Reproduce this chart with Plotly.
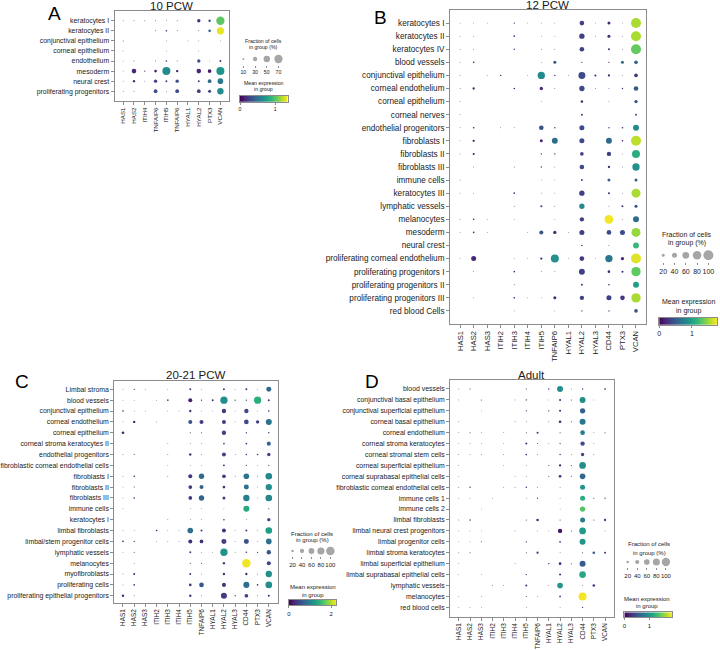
import plotly.graph_objects as go
import numpy as np

W, H = 720, 650
FONT = "Liberation Sans, Arial, sans-serif"

# ---------------- Panel A: 10 PCW ----------------
genes_A = ["HAS1", "HAS2", "ITIH4", "TNFAIP6", "ITIH5", "TNFAIP6", "HYAL1", "HYAL2", "PTX3", "VCAN"]
rows_A = ["keratocytes I", "keratocytes II", "conjunctival epithelium", "corneal epithelium",
          "endothelium", "mesoderm", "neural crest", "proliferating progenitors"]
frac_A = [
    [2, 4, 1, 4, 1, 4, 0, 21, 13, 70],
    [0, 0, 0, 4, 8, 4, 0, 4, 15, 59],
    [4, 0, 0, 0, 3, 0, 3, 3, 0, 3],
    [2, 0, 0, 0, 2, 0, 0, 3, 0, 0],
    [2, 4, 0, 4, 8, 4, 0, 21, 3, 10],
    [2, 32, 6, 15, 67, 13, 0, 32, 24, 67],
    [3, 13, 2, 21, 10, 21, 0, 10, 24, 42],
    [2, 4, 0, 24, 3, 24, 0, 24, 18, 49],
]
expr_A = [
    [.05, .1, .05, .1, .05, .1, 0, .2, .3, 1.0],
    [0, 0, 0, .1, .2, .1, 0, .1, .45, 1.3],
    [.05, 0, 0, 0, .05, 0, .05, .05, 0, .1],
    [.05, 0, 0, 0, .05, 0, 0, .05, 0, 0],
    [.05, .05, 0, .05, .2, .05, 0, .35, .1, .2],
    [.05, .15, .1, .1, .65, .1, 0, .15, .1, .7],
    [.05, .15, .05, .25, .2, .3, 0, .2, .45, .55],
    [.05, .1, 0, .3, .1, .3, 0, .25, .25, .65],
]
size_ticks_A = [10, 30, 50, 70]

# ---------------- Panel B: 12 PCW ----------------
genes_14 = ["HAS1", "HAS2", "HAS3", "ITIH2", "ITIH3", "ITIH4", "ITIH5", "TNFAIP6",
            "HYAL1", "HYAL2", "HYAL3", "CD44", "PTX3", "VCAN"]
rows_B = ["keratocytes I", "keratocytes II", "keratocytes IV", "blood vessels",
          "conjunctival epithelium", "corneal endothelium", "corneal epithelium", "corneal nerves",
          "endothelial progenitors", "fibroblasts I", "fibroblasts II", "fibroblasts III",
          "immune cells", "keratocytes III", "lymphatic vessels", "melanocytes", "mesoderm",
          "neural crest", "proliferating corneal endothelium", "proliferating progenitors I",
          "proliferating progenitors II", "proliferating progenitors III", "red blood Cells"]
frac_B = [
    [2, 2, 1, 0, 7, 1, 2, 2, 0, 36, 1, 20, 2, 100],
    [2, 2, 0, 0, 9, 0, 2, 2, 0, 43, 1, 20, 2, 100],
    [2, 2, 0, 0, 7, 0, 2, 2, 0, 36, 0, 12, 2, 100],
    [2, 9, 0, 0, 0, 0, 4, 20, 0, 7, 0, 7, 20, 26],
    [4, 0, 1, 7, 0, 2, 66, 7, 1, 62, 12, 14, 2, 26],
    [3, 14, 0, 0, 9, 0, 23, 2, 0, 43, 3, 4, 7, 36],
    [4, 0, 0, 0, 0, 0, 4, 0, 0, 17, 0, 4, 0, 23],
    [2, 0, 0, 0, 0, 0, 0, 0, 0, 12, 0, 0, 0, 12],
    [3, 9, 0, 2, 3, 0, 36, 7, 0, 40, 0, 7, 9, 50],
    [2, 14, 0, 0, 0, 0, 20, 50, 0, 40, 0, 50, 9, 100],
    [2, 12, 0, 0, 0, 0, 7, 7, 0, 26, 0, 33, 3, 74],
    [0, 2, 0, 0, 4, 0, 7, 2, 0, 36, 0, 14, 3, 66],
    [4, 0, 0, 0, 0, 0, 2, 2, 0, 12, 0, 20, 0, 20],
    [2, 2, 0, 0, 9, 0, 2, 2, 0, 43, 0, 12, 2, 87],
    [0, 0, 0, 0, 2, 0, 12, 2, 0, 43, 0, 2, 12, 20],
    [2, 9, 2, 0, 2, 0, 0, 2, 0, 33, 0, 83, 2, 50],
    [2, 9, 2, 0, 0, 2, 30, 23, 2, 40, 0, 36, 40, 87],
    [0, 0, 0, 0, 0, 0, 0, 0, 0, 9, 0, 4, 0, 50],
    [2, 40, 0, 0, 2, 2, 14, 74, 2, 36, 2, 66, 23, 100],
    [0, 4, 0, 0, 9, 0, 4, 4, 0, 50, 0, 17, 12, 91],
    [0, 0, 0, 0, 4, 0, 0, 0, 0, 12, 0, 9, 0, 50],
    [0, 2, 0, 0, 9, 2, 2, 20, 0, 33, 0, 40, 36, 91],
    [0, 0, 0, 0, 2, 0, 0, 2, 0, 7, 0, 7, 0, 26],
]
expr_B = [
    [.05, .05, .05, 0, .15, .05, .05, .05, 0, .35, .05, .2, .05, 1.55],
    [.05, .05, 0, 0, .15, 0, .05, .05, 0, .35, .05, .2, .05, 1.55],
    [.05, .05, 0, 0, .15, 0, .05, .05, 0, .35, 0, .2, .05, 1.35],
    [.05, .15, 0, 0, 0, 0, .1, .45, 0, .3, 0, .2, .6, .55],
    [.05, 0, .05, .15, 0, .05, .85, .1, .05, .4, .2, .2, .05, .25],
    [.05, .15, 0, 0, .15, 0, .2, .05, 0, .4, .1, .15, .15, .5],
    [.05, 0, 0, 0, 0, 0, .1, 0, 0, .35, 0, .15, 0, .45],
    [.05, 0, 0, 0, 0, 0, 0, 0, 0, .35, 0, 0, 0, .4],
    [.05, .15, 0, .05, .1, 0, .45, .1, 0, .4, 0, .2, .2, .85],
    [.05, .15, 0, 0, 0, 0, .2, .65, 0, .4, 0, .6, .2, 1.6],
    [.05, .15, 0, 0, 0, 0, .1, .1, 0, .35, 0, .35, .1, 1.1],
    [0, .1, 0, 0, .1, 0, .1, .1, 0, .4, 0, .2, .1, .9],
    [.05, 0, 0, 0, 0, 0, .05, .05, 0, .3, 0, .55, 0, .5],
    [.05, .05, 0, 0, .15, 0, .05, .05, 0, .35, 0, .2, .05, 1.55],
    [0, 0, 0, 0, .05, 0, .25, .05, 0, .85, 0, .1, .3, .4],
    [.05, .15, .05, 0, .05, 0, 0, .05, 0, .35, 0, 1.75, .05, .62],
    [.05, .15, .05, 0, 0, .05, .45, .2, .05, .35, 0, .4, .4, 1.5],
    [0, 0, 0, 0, 0, 0, 0, 0, 0, .3, 0, .1, 0, 1.2],
    [.05, .2, 0, 0, .05, .05, .2, .9, .05, .3, .05, .7, .2, 1.7],
    [0, .1, 0, 0, .2, 0, .1, .1, 0, .35, 0, .2, .2, 1.33],
    [0, 0, 0, 0, .05, 0, 0, 0, 0, .3, 0, .2, 0, 1.0],
    [0, .1, 0, 0, .15, .05, .05, .2, 0, .35, 0, .35, .3, 1.55],
    [0, 0, 0, 0, .05, 0, 0, .05, 0, .3, 0, .2, 0, .45],
]
size_ticks_B = [20, 40, 60, 80, 100]

# ---------------- Panel C: 20-21 PCW ----------------
rows_C = ["Limbal stroma", "blood vessels", "conjunctival epithelium", "corneal endothelium",
          "corneal epithelium", "corneal stroma keratocytes II", "endothelial progenitors",
          "fibroblastic corneal endothelial cells", "fibroblasts I", "fibroblasts II",
          "fibroblasts III", "immune cells", "keratocytes I", "limbal fibroblasts",
          "limbal/stem progenitor cells", "lymphatic vessels", "melanocytes", "myofibroblasts",
          "proliferating cells", "proliferating epithelial progenitors"]
frac_C = [
    [1, 8, 1, 0, 2, 0, 14, 2, 0, 14, 2, 14, 2, 49],
    [2, 2, 0, 2, 11, 0, 37, 8, 14, 82, 8, 8, 82, 14],
    [11, 2, 2, 0, 2, 2, 18, 2, 2, 41, 2, 41, 2, 11],
    [2, 18, 0, 2, 0, 0, 37, 37, 0, 37, 4, 45, 29, 63],
    [21, 0, 0, 0, 0, 0, 6, 6, 0, 41, 0, 8, 0, 8],
    [0, 0, 0, 0, 2, 0, 4, 4, 0, 11, 0, 11, 0, 37],
    [2, 6, 0, 0, 2, 0, 18, 2, 0, 37, 2, 11, 11, 29],
    [0, 0, 0, 0, 2, 0, 4, 2, 0, 14, 0, 8, 4, 6],
    [2, 11, 0, 0, 2, 0, 37, 54, 0, 33, 2, 58, 4, 72],
    [2, 6, 0, 0, 0, 0, 33, 37, 0, 21, 0, 49, 4, 68],
    [2, 11, 0, 0, 0, 0, 33, 54, 0, 25, 0, 68, 4, 72],
    [4, 0, 0, 0, 0, 0, 2, 2, 0, 4, 0, 63, 0, 6],
    [0, 0, 0, 0, 2, 0, 2, 2, 0, 11, 0, 2, 0, 29],
    [2, 4, 0, 11, 2, 2, 58, 14, 0, 37, 2, 14, 2, 72],
    [11, 8, 0, 2, 2, 2, 37, 33, 0, 49, 2, 49, 2, 58],
    [2, 6, 0, 0, 0, 0, 14, 2, 4, 82, 2, 11, 8, 41],
    [0, 2, 0, 0, 0, 0, 6, 6, 0, 18, 0, 100, 0, 37],
    [2, 14, 0, 0, 0, 0, 14, 4, 0, 18, 0, 18, 2, 68],
    [2, 11, 0, 0, 0, 0, 21, 45, 0, 37, 0, 63, 11, 72],
    [18, 2, 0, 0, 0, 0, 18, 4, 0, 63, 8, 33, 2, 14],
]
expr_C = [
    [.05, .2, .05, 0, .05, 0, .3, .1, 0, .3, .1, .3, .1, .75],
    [.05, .05, 0, .05, .2, 0, .2, .1, .2, 1.1, .2, .2, 1.4, .3],
    [.2, .05, .05, 0, .05, .05, .3, .05, .05, .4, .05, .5, .05, .3],
    [.05, .2, 0, .05, 0, 0, .6, .4, 0, .4, .1, .5, .4, .85],
    [.2, 0, 0, 0, 0, 0, .1, .1, 0, .45, 0, .3, 0, .1],
    [0, 0, 0, 0, .1, 0, .1, .1, 0, .3, 0, .3, 0, .7],
    [.05, .15, 0, 0, .05, 0, .3, .05, 0, .45, .05, .3, .3, .4],
    [0, 0, 0, 0, .1, 0, .1, .1, 0, .3, 0, .2, .3, .1],
    [.05, .2, 0, 0, .05, 0, .35, .75, 0, .4, .05, .85, .1, 1.05],
    [.05, .15, 0, 0, 0, 0, .35, .7, 0, .3, 0, .8, .1, 1.1],
    [.05, .2, 0, 0, 0, 0, .35, .7, 0, .35, 0, .95, .1, 1.05],
    [.05, 0, 0, 0, 0, 0, .05, .05, 0, .1, 0, 1.35, 0, .1],
    [0, 0, 0, 0, .05, 0, .05, .05, 0, .3, 0, .1, 0, .5],
    [.05, .1, 0, .2, .05, .05, .8, .3, 0, .35, .05, .3, .05, 1.25],
    [.2, .2, 0, .05, .05, .05, .3, .3, 0, .4, .05, .55, .05, .8],
    [.05, .15, 0, 0, 0, 0, .3, .05, .1, 1.15, .05, .3, .05, .6],
    [0, .05, 0, 0, 0, 0, .1, .1, 0, .3, 0, 2.2, 0, .45],
    [.05, .2, 0, 0, 0, 0, .3, .1, 0, .3, 0, .3, 0, 1.1],
    [.05, .2, 0, 0, 0, 0, .35, .6, 0, .35, 0, .8, .2, 1.1],
    [.2, .05, 0, 0, 0, 0, .3, .1, 0, .4, .2, .4, .05, .2],
]
size_ticks_C = [20, 40, 60, 80, 100]

# ---------------- Panel D: Adult ----------------
rows_D = ["blood vessels", "conjunctival basal epithelium", "conjunctival superficial epithelium",
          "corneal basal epithelium", "corneal endothelium", "corneal stroma keratocytes",
          "corneal stromal stem cells", "corneal superficial epithelium",
          "corneal suprabasal epithelial cells", "fibroblastic corneal endothelial cells",
          "immune cells 1", "immune cells 2", "limbal fibroblasts",
          "limbal neural crest progenitors", "limbal progenitor cells", "limbal stroma keratocytes",
          "limbal superficial epithelium", "limbal suprabasal epithelial cells",
          "lymphatic vessels", "melanocytes", "red blood cells"]
frac_D = [
    [2, 6, 0, 0, 0, 0, 6, 0, 9, 65, 2, 9, 0, 12],
    [2, 0, 6, 0, 0, 2, 9, 0, 3, 15, 6, 65, 2, 0],
    [0, 0, 3, 0, 0, 0, 9, 0, 9, 15, 0, 55, 0, 0],
    [2, 0, 0, 0, 0, 2, 3, 0, 3, 22, 6, 65, 0, 0],
    [2, 6, 2, 0, 2, 0, 6, 15, 0, 6, 0, 46, 3, 6],
    [2, 2, 2, 0, 2, 0, 15, 6, 3, 9, 0, 42, 3, 0],
    [2, 2, 2, 0, 2, 0, 12, 3, 0, 9, 2, 30, 3, 0],
    [3, 0, 0, 0, 2, 0, 2, 0, 6, 18, 6, 75, 0, 0],
    [3, 0, 0, 0, 0, 2, 2, 0, 6, 22, 6, 60, 0, 0],
    [2, 9, 0, 0, 2, 2, 9, 2, 0, 3, 0, 51, 0, 0],
    [2, 2, 0, 2, 0, 0, 2, 9, 0, 3, 0, 51, 6, 9],
    [0, 0, 2, 0, 0, 0, 0, 0, 0, 2, 0, 55, 0, 0],
    [2, 9, 0, 0, 0, 0, 6, 22, 0, 6, 0, 51, 6, 18],
    [3, 3, 3, 0, 0, 2, 0, 2, 2, 42, 6, 75, 0, 2],
    [2, 2, 6, 0, 0, 0, 9, 0, 0, 12, 0, 65, 0, 0],
    [2, 6, 0, 0, 0, 0, 6, 18, 0, 2, 0, 6, 22, 15],
    [2, 0, 0, 0, 0, 2, 0, 0, 9, 22, 6, 65, 0, 0],
    [2, 0, 2, 0, 0, 0, 9, 0, 0, 15, 0, 75, 0, 0],
    [0, 0, 0, 2, 3, 0, 15, 0, 2, 60, 0, 3, 22, 0],
    [2, 0, 2, 0, 0, 0, 6, 2, 0, 12, 0, 95, 0, 0],
    [2, 2, 2, 0, 0, 0, 2, 0, 0, 3, 0, 9, 0, 0],
]
expr_D = [
    [.05, .1, 0, 0, 0, 0, .1, 0, .2, .95, .05, .2, 0, .2],
    [.05, 0, .1, 0, 0, .05, .2, 0, .1, .2, .1, .95, .05, 0],
    [0, 0, .1, 0, 0, 0, .15, 0, .15, .2, 0, .6, 0, 0],
    [.05, 0, 0, 0, 0, .05, .05, 0, .05, .25, .1, .75, 0, 0],
    [.05, .1, .05, 0, .05, 0, .1, .3, 0, .1, 0, .8, .1, .1],
    [.05, .05, .05, 0, .05, 0, .2, .1, .1, .2, 0, .45, .1, 0],
    [.05, .05, .05, 0, .05, 0, .2, .05, 0, .2, .1, .4, .1, 0],
    [.05, 0, 0, 0, .05, 0, .05, 0, .1, .2, .1, .95, 0, 0],
    [.05, 0, 0, 0, 0, .05, .05, 0, .1, .25, .1, .65, 0, 0],
    [.05, .15, 0, 0, .05, .05, .1, .05, 0, .05, 0, 1.0, 0, 0],
    [.05, .05, 0, .05, 0, 0, .05, .25, 0, .05, 0, 1.2, .1, .25],
    [0, 0, .05, 0, 0, 0, 0, 0, 0, .05, 0, 1.4, 0, 0],
    [.05, .1, 0, 0, 0, 0, .1, .35, 0, .1, 0, .8, .1, .3],
    [.05, .1, .1, 0, 0, .05, 0, .05, .05, .1, .1, 1.05, 0, .05],
    [.05, .05, .1, 0, 0, 0, .15, 0, 0, .2, 0, 1.0, 0, 0],
    [.05, .15, 0, 0, 0, 0, .1, .45, 0, .05, 0, .1, .55, .3],
    [.05, 0, 0, 0, 0, .05, 0, 0, .15, .2, .1, .55, 0, 0],
    [.05, 0, .05, 0, 0, 0, .15, 0, 0, .2, 0, 1.15, 0, 0],
    [0, 0, 0, .05, .05, 0, .25, 0, .05, 1.0, 0, .1, .35, 0],
    [.05, 0, .05, 0, 0, 0, .15, .05, 0, .2, 0, 1.9, 0, 0],
    [.05, .05, .05, 0, 0, 0, .05, 0, 0, .1, 0, .2, 0, 0],
]
size_ticks_D = [20, 40, 60, 80, 100]

# colour-scale maxima and tick labels (from the reference colorbars)
cmax_vals = {"A": 1.35, "B": 1.78, "C": 2.24, "D": 1.93}
cbar_ticks = {"A": [0, 1], "B": [0, 1], "C": [0, 2], "D": [0, 1]}

# ---------------- layout geometry (pixels) ----------------
panels = {
    "A": dict(genes=genes_A, rows=rows_A, frac=frac_A, expr=expr_A, sticks=size_ticks_A,
              box=(113, 11, 228, 101), padx=0.8, pady=(0.97, 0.97), font=6.9, xfont=6.2,
              dref=70, dpx=8.3, title="10 PCW", tpos=(170, 6), letter=(53, 14), lfont=5.2,
              sleg=(236.5, 283.5, 53, 65), cbar=(239, 286.7, 96, 101.7),
              t1=(263, 41.3, 47), t2=(263, 82.7, 89)),
    "B": dict(genes=genes_14, rows=rows_B, frac=frac_B, expr=expr_B, sticks=size_ticks_B,
              box=(450, 10, 646.7, 324), padx=0.74, pady=(1.0, 1.0), font=8.2, xfont=7.6,
              dref=100, dpx=10, title="12 PCW", tpos=(548, 5), letter=(380, 18), lfont=7,
              sleg=(658.3, 715, 248.3, 262.3), cbar=(660, 718.3, 317.7, 325),
              t1=(688, 234, 242.7), t2=(689, 302.3, 311)),
    "C": dict(genes=genes_14, rows=rows_C, frac=frac_C, expr=expr_C, sticks=size_ticks_C,
              box=(112.7, 380.5, 276.7, 602.7), padx=0.78, pady=(0.81, 0.64), font=6.9, xfont=6.4,
              dref=100, dpx=8.5, title="20-21 PCW", tpos=(195, 375), letter=(20, 381), lfont=6,
              sleg=(287, 334.5, 545.7, 556.3), cbar=(288, 335.7, 600, 605.3),
              t1=(311.7, 533.5, 540), t2=(312, 586.7, 595)),
    "D": dict(genes=genes_14, rows=rows_D, frac=frac_D, expr=expr_D, sticks=size_ticks_D,
              box=(450, 379.6, 614.3, 616.7), padx=0.77, pady=(0.86, 0.86), font=6.9, xfont=6.4,
              dref=100, dpx=8.3, title="Adult", tpos=(532, 374.5), letter=(372, 381), lfont=6,
              sleg=(623.5, 671.5, 556.7, 567.3), cbar=(625, 673.3, 612.3, 617.3),
              t1=(650, 544.3, 552.5), t2=(648, 599, 606)),
}

GRAY_LINE = "#8c8c8c"
TXT = "#1a1a1a"

def dx(l, r):
    return [l / W, r / W]

def dy(t, b):
    return [1 - b / H, 1 - t / H]

fig = go.Figure()
layout = dict(width=W, height=H, margin=dict(l=0, r=0, t=0, b=0, pad=0),
              paper_bgcolor="white", plot_bgcolor="white", showlegend=False,
              font=dict(family=FONT, color=TXT))
annotations = []

def diam(f, p):
    d = p["dpx"] * (f / p["dref"]) ** 0.75
    return max(d, 0.8)

def label(text, x, y, size, color=TXT):
    annotations.append(dict(text=text, x=x / W, y=1 - y / H, xref="paper", yref="paper",
                            showarrow=False, font=dict(size=size, color=color),
                            xanchor="center", yanchor="middle"))

ax_i = 0
for key, p in panels.items():
    # main dot plot axes
    ax_i += 1
    xa, ya = f"xaxis{ax_i}", f"yaxis{ax_i}"
    xr, yr = f"x{ax_i}", f"y{ax_i}"
    l, t, r, b = p["box"]
    ng, nr = len(p["genes"]), len(p["rows"])
    xs, ys, ss, cs = [], [], [], []
    for i in range(nr):
        for j in range(ng):
            f = p["frac"][i][j]
            if f <= 0:
                continue
            xs.append(j); ys.append(i); ss.append(diam(f, p)); cs.append(p["expr"][i][j])
    fig.add_trace(go.Scatter(
        x=xs, y=ys, mode="markers", xaxis=xr, yaxis=yr, hoverinfo="skip",
        marker=dict(size=ss, color=cs, colorscale="Viridis", cmin=0, cmax=cmax_vals[key],
                    line=dict(width=0), opacity=1)))
    layout[xa] = dict(domain=dx(l, r), anchor=yr, range=[-p["padx"], ng - 1 + p["padx"]],
                      tickvals=list(range(ng)), ticktext=p["genes"], tickangle=-90,
                      tickfont=dict(size=p["xfont"], color=TXT), ticks="outside", ticklen=3,
                      tickcolor=GRAY_LINE, showline=True, mirror=True, linecolor=GRAY_LINE,
                      linewidth=1, showgrid=False, zeroline=False, fixedrange=True)
    layout[ya] = dict(domain=dy(t, b), anchor=xr, range=[nr - 1 + p["pady"][1], -p["pady"][0]],
                      tickvals=list(range(nr)), ticktext=p["rows"],
                      tickfont=dict(size=p["font"], color=TXT), ticks="outside", ticklen=3,
                      tickcolor=GRAY_LINE, showline=True, mirror=True, linecolor=GRAY_LINE,
                      linewidth=1, showgrid=False, zeroline=False, fixedrange=True)
    # title and panel letter
    label(p["title"], p["tpos"][0], p["tpos"][1], 11.5)
    label(key, p["letter"][0], p["letter"][1], 19, "black")

    # size legend axes
    ax_i += 1
    xa, ya = f"xaxis{ax_i}", f"yaxis{ax_i}"
    xr, yr = f"x{ax_i}", f"y{ax_i}"
    sl, sr, st, sb = p["sleg"]
    nt = len(p["sticks"])
    fig.add_trace(go.Scatter(
        x=list(range(nt)), y=[0] * nt, mode="markers", xaxis=xr, yaxis=yr, hoverinfo="skip",
        marker=dict(size=[diam(v, p) for v in p["sticks"]], color="#808080", line=dict(width=0))))
    layout[xa] = dict(domain=dx(sl, sr), anchor=yr, range=[-0.5, nt - 0.5],
                      tickvals=list(range(nt)), ticktext=[str(v) for v in p["sticks"]],
                      tickangle=0, tickfont=dict(size=p["lfont"], color=TXT), ticks="outside",
                      ticklen=2, tickcolor=GRAY_LINE, showline=False, showgrid=False,
                      zeroline=False, fixedrange=True)
    layout[ya] = dict(domain=dy(st, sb), anchor=xr, range=[-1, 1], visible=False, fixedrange=True)
    label("Fraction of cells", p["t1"][0], p["t1"][1], p["lfont"])
    label("in group (%)", p["t1"][0], p["t1"][2], p["lfont"])

    # colour bar axes (gradient drawn as a heatmap)
    ax_i += 1
    xa, ya = f"xaxis{ax_i}", f"yaxis{ax_i}"
    xr, yr = f"x{ax_i}", f"y{ax_i}"
    cl, cr, ct, cb = p["cbar"]
    cm = cmax_vals[key]
    grad = np.linspace(0, cm, 200)
    fig.add_trace(go.Heatmap(
        z=[grad], x=grad, y=[0], xaxis=xr, yaxis=yr, colorscale="Viridis", zmin=0, zmax=cm,
        showscale=False, hoverinfo="skip"))
    layout[xa] = dict(domain=dx(cl, cr), anchor=yr, range=[0, cm],
                      tickvals=cbar_ticks[key], ticktext=[str(v) for v in cbar_ticks[key]],
                      tickangle=0, tickfont=dict(size=p["lfont"], color=TXT), ticks="outside",
                      ticklen=2, tickcolor=GRAY_LINE, showline=True, mirror=True,
                      linecolor=GRAY_LINE, linewidth=1, showgrid=False, zeroline=False,
                      fixedrange=True)
    layout[ya] = dict(domain=dy(ct, cb), anchor=xr, range=[-0.5, 0.5], showticklabels=False,
                      ticks="", showline=True, mirror=True, linecolor=GRAY_LINE, linewidth=1,
                      showgrid=False, zeroline=False, fixedrange=True)
    label("Mean expression", p["t2"][0], p["t2"][1], p["lfont"])
    label("in group", p["t2"][0], p["t2"][2], p["lfont"])

layout["annotations"] = annotations
fig.update_layout(**layout)
fig.write_html("out.html", config={"displayModeBar": False},
               post_script="document.body.style.margin='0px';document.body.style.overflow='hidden';")
